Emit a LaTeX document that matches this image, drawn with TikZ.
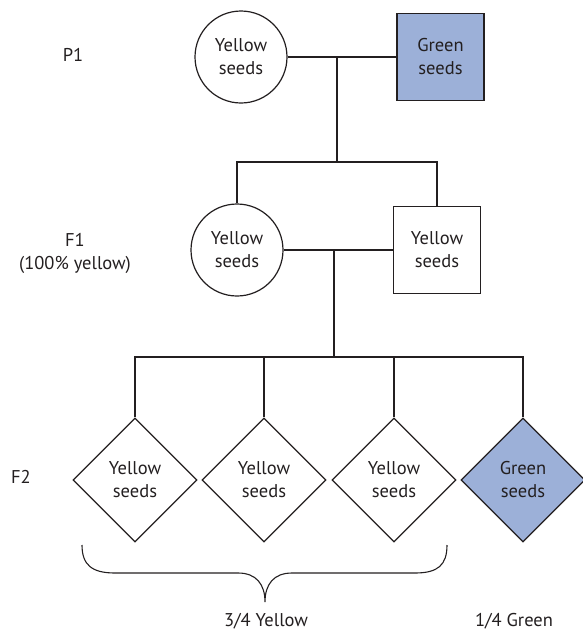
\documentclass[tikz,border=0pt]{standalone}
\usepackage{fontspec}
\setmainfont{PT Sans}
\usetikzlibrary{shapes.geometric}
\definecolor{ink}{RGB}{35,31,32}
\definecolor{greenseed}{RGB}{156,176,216}

\begin{document}
\begin{tikzpicture}[x=1pt,y=-1pt,font=\fontsize{18.5}{23}\selectfont,text=ink,
	indiv/.style={draw=ink,line width=1.2pt,inner sep=0pt,align=center},
	male/.style={indiv,rectangle,minimum size=87pt},
	female/.style={indiv,circle,minimum size=92pt},
	child/.style={indiv,diamond,minimum size=124pt},
	link/.style={draw=ink,line width=2.5pt,line join=miter}]
		\useasboundingbox (0,0) rectangle (583,630);

		\node (p1) at (73,55) {P1};
		\node (f1) at (75,240) {F1};
		\node (f1pct) at (75,265) {(100\% yellow)};
		\node (f2) at (21,477) {F2};

		\node (p1m) at (241,57) [female] {Yellow\\seeds};
		\node (p1f) at (440.5,57) [male,fill=greenseed] {Green\\seeds};
		\node (f1m) at (237,250) [female] {Yellow\\seeds};
		\node (f1f) at (437,250) [male] {Yellow\\seeds};

		\node (c1) at (135,480) [child] {Yellow\\seeds};
		\node (c2) at (264,480) [child] {Yellow\\seeds};
		\node (c3) at (394,480) [child] {Yellow\\seeds};
		\node (c4) at (523,480) [child,fill=greenseed] {Green\\seeds};

		\coordinate (a) at (337,57);
		\coordinate (b) at (337,162);
		\coordinate (c) at (334,250);
		\coordinate (d) at (334,357);

		\draw[link] (p1m) -- (p1f) (a) -- (b);
		\draw[link] (f1m) -- (f1m |- b) -- (f1f |- b) -- (f1f);
		\draw[link] (f1m) -- (f1f) (c) -- (d);
		\draw[link] (c1) -- (c1 |- d) -- (c4 |- d) -- (c4);
		\draw[link] (c2) -- (c2 |- d) (c3) -- (c3 |- d);

		\draw[ink,line width=1.1pt] (82,545) .. controls (82,565) and (92,573) .. (115,573) -- (238,573)
			.. controls (256,573) and (265,584) .. (265,602)
			.. controls (265,584) and (274,573) .. (292,573) -- (415,573)
			.. controls (438,573) and (447,565) .. (447,545);

		\node (yel) at (266,621) {3/4 Yellow};
		\node (grn) at (514,621) {1/4 Green};
\end{tikzpicture}
\end{document}
